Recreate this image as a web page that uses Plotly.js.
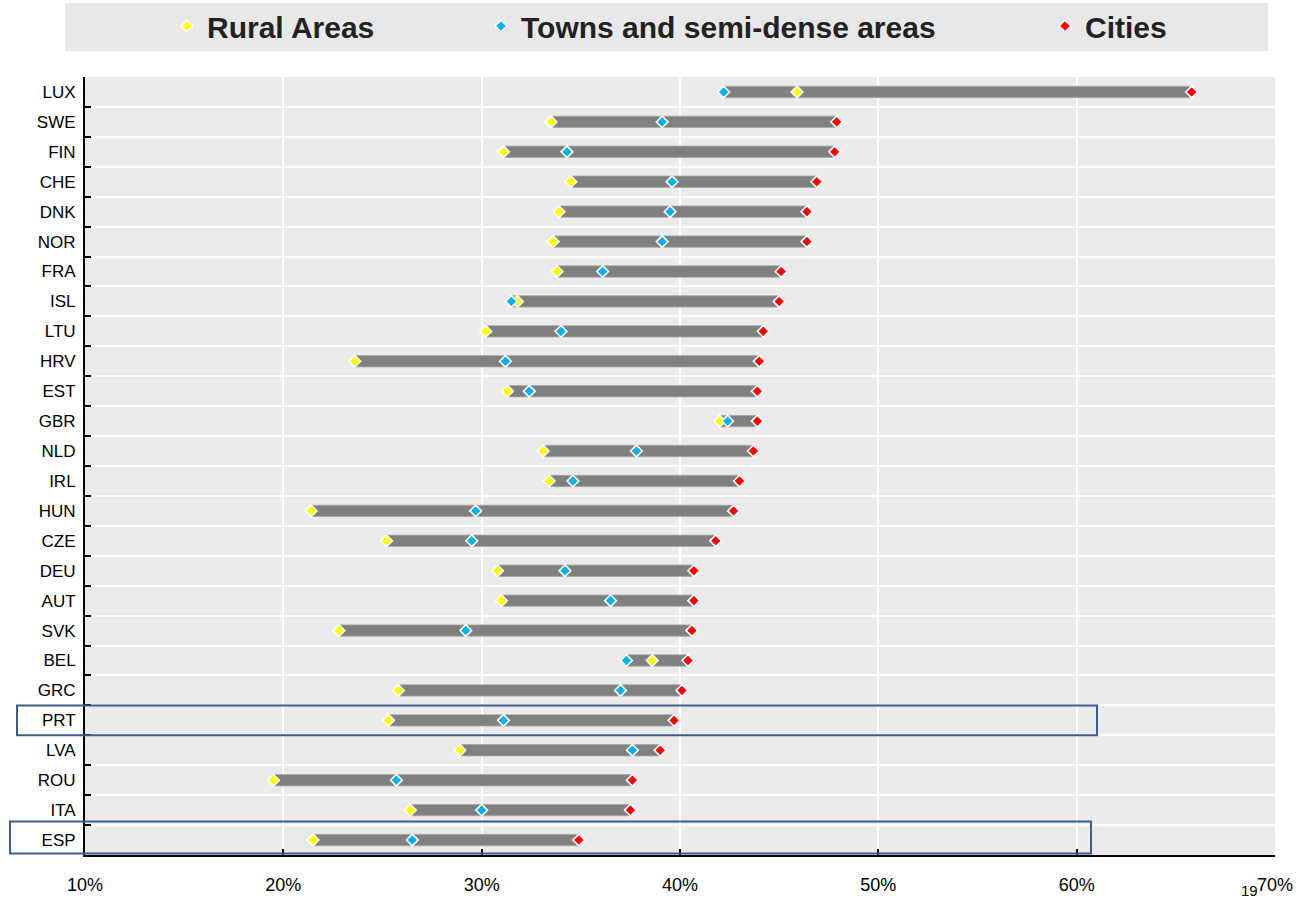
<!DOCTYPE html>
<html>
<head>
<meta charset="utf-8">
<script src="https://cdn.plot.ly/plotly-3.0.1.min.js"></script>
<style>
  html, body { margin: 0; padding: 0; background: #ffffff; }
  #chart { width: 1301px; height: 898px; }
</style>
</head>
<body>
<div id="chart"></div>
<script>
const countries = ['LUX','SWE','FIN','CHE','DNK','NOR','FRA','ISL','LTU','HRV','EST','GBR','NLD','IRL','HUN','CZE','DEU','AUT','SVK','BEL','GRC','PRT','LVA','ROU','ITA','ESP'];
const rural  = [45.9, 33.5, 31.1, 34.5, 33.9, 33.6, 33.8, 31.8, 30.2, 23.6, 31.3, 42.0, 33.1, 33.4, 21.4, 25.2, 30.8, 31.0, 22.8, 38.6, 25.8, 25.3, 28.9, 19.5, 26.4, 21.5];
const towns  = [42.2, 39.1, 34.3, 39.6, 39.5, 39.1, 36.1, 31.5, 34.0, 31.2, 32.4, 42.4, 37.8, 34.6, 29.7, 29.5, 34.2, 36.5, 29.2, 37.3, 37.0, 31.1, 37.6, 25.7, 30.0, 26.5];
const cities = [65.8, 47.9, 47.8, 46.9, 46.4, 46.4, 45.1, 45.0, 44.2, 44.0, 43.9, 43.9, 43.7, 43.0, 42.7, 41.8, 40.7, 40.7, 40.6, 40.4, 40.1, 39.7, 39.0, 37.6, 37.5, 34.9];
const seriesNames = ['Rural Areas', 'Towns and semi-dense areas', 'Cities'];
const xTickVals = [10, 20, 30, 40, 50, 60, 70];
const highlighted = ['PRT', 'ESP'];

const FONT = '"Liberation Sans", Arial, sans-serif';

const barBase = countries.map((c, i) => Math.min(rural[i], towns[i], cities[i]));
const barLen = countries.map((c, i) => Math.max(rural[i], towns[i], cities[i]) - barBase[i]);

function markerTrace(vals, name, color, legendId) {
  return {
    type: 'scatter', mode: 'markers',
    x: vals, y: countries, name: name,
    legend: legendId,
    marker: { symbol: 'diamond', size: 9, color: color, line: { color: '#ffffff', width: 1.6 } },
    hoverinfo: 'x+y+name'
  };
}

const traces = [
  {
    type: 'bar', orientation: 'h',
    y: countries, x: barLen, base: barBase,
    width: 0.38,
    marker: { color: '#808080', line: { color: '#a8a8a8', width: 0.8 } },
    showlegend: false, hoverinfo: 'skip'
  },
  markerTrace(rural, seriesNames[0], '#ffff00', 'legend'),
  markerTrace(towns, seriesNames[1], '#00b0f0', 'legend2'),
  markerTrace(cities, seriesNames[2], '#ff0000', 'legend3')
];

const plotL = 85, plotR = 1275, plotT = 77, plotB = 855;
const pw = plotR - plotL, ph = plotB - plotT;
const px2x = p => (p - plotL) / pw;
const px2y = p => 1 + (plotT - p) / ph;

const legendFont = { family: FONT, size: 30, color: '#222222', weight: 'bold' };
function legendAt(px) {
  return {
    orientation: 'h', x: px2x(px), xanchor: 'left', y: px2y(26), yanchor: 'middle',
    bgcolor: 'rgba(0,0,0,0)', borderwidth: 0, font: legendFont,
    itemclick: false, itemdoubleclick: false
  };
}

const shapes = [
  { type: 'rect', xref: 'paper', yref: 'paper', x0: px2x(65), x1: px2x(1268), y0: px2y(51), y1: px2y(3),
    fillcolor: '#e8e8e8', line: { width: 0 }, layer: 'below' },
  { type: 'rect', xref: 'paper', yref: 'y', x0: px2x(17), x1: px2x(1097),
    y0: countries.indexOf(highlighted[0]) - 0.5, y1: countries.indexOf(highlighted[0]) + 0.5,
    line: { color: '#3d5d8c', width: 2 }, layer: 'above' },
  { type: 'rect', xref: 'paper', yref: 'y', x0: px2x(10), x1: px2x(1091),
    y0: countries.indexOf(highlighted[1]) - 0.62, y1: countries.indexOf(highlighted[1]) + 0.45,
    line: { color: '#3d5d8c', width: 2 }, layer: 'above' }
];

const layout = {
  width: 1301, height: 898,
  margin: { l: plotL, r: 1301 - plotR, t: plotT, b: 898 - plotB, pad: 0, autoexpand: false },
  paper_bgcolor: '#ffffff', plot_bgcolor: '#ebebeb',
  font: { family: FONT, size: 17, color: '#000000' },
  showlegend: true,
  barmode: 'overlay',
  legend: legendAt(167),
  legend2: legendAt(481),
  legend3: legendAt(1045),
  xaxis: {
    range: [10, 70], tickvals: xTickVals, ticktext: xTickVals.map(v => v + '%'),
    showgrid: true, gridcolor: '#ffffff', gridwidth: 2,
    zeroline: false, showline: true, linecolor: '#000000', linewidth: 2,
    ticks: 'inside', ticklen: 6, tickwidth: 2, tickcolor: '#000000',
    tickfont: { family: FONT, size: 18, color: '#000000' },
    ticklabelstandoff: 12, automargin: false, fixedrange: true
  },
  yaxis: {
    type: 'category', categoryarray: countries, range: [countries.length - 0.5, -0.5],
    showgrid: true, gridcolor: '#ffffff', gridwidth: 2, tickson: 'boundaries',
    zeroline: false, showline: true, linecolor: '#000000', linewidth: 2,
    ticks: 'inside', ticklen: 6, tickwidth: 2, tickcolor: '#000000',
    tickfont: { family: FONT, size: 17, color: '#000000' },
    ticklabelstandoff: 4, automargin: false, fixedrange: true
  },
  shapes: shapes,
  annotations: [
    { text: '19', xref: 'paper', yref: 'paper', x: px2x(1249), y: px2y(890),
      xanchor: 'center', yanchor: 'middle',
      showarrow: false, font: { family: FONT, size: 15, color: '#000000' } }
  ]
};

Plotly.newPlot('chart', traces, layout, { displayModeBar: false, staticPlot: false });
</script>
</body>
</html>
